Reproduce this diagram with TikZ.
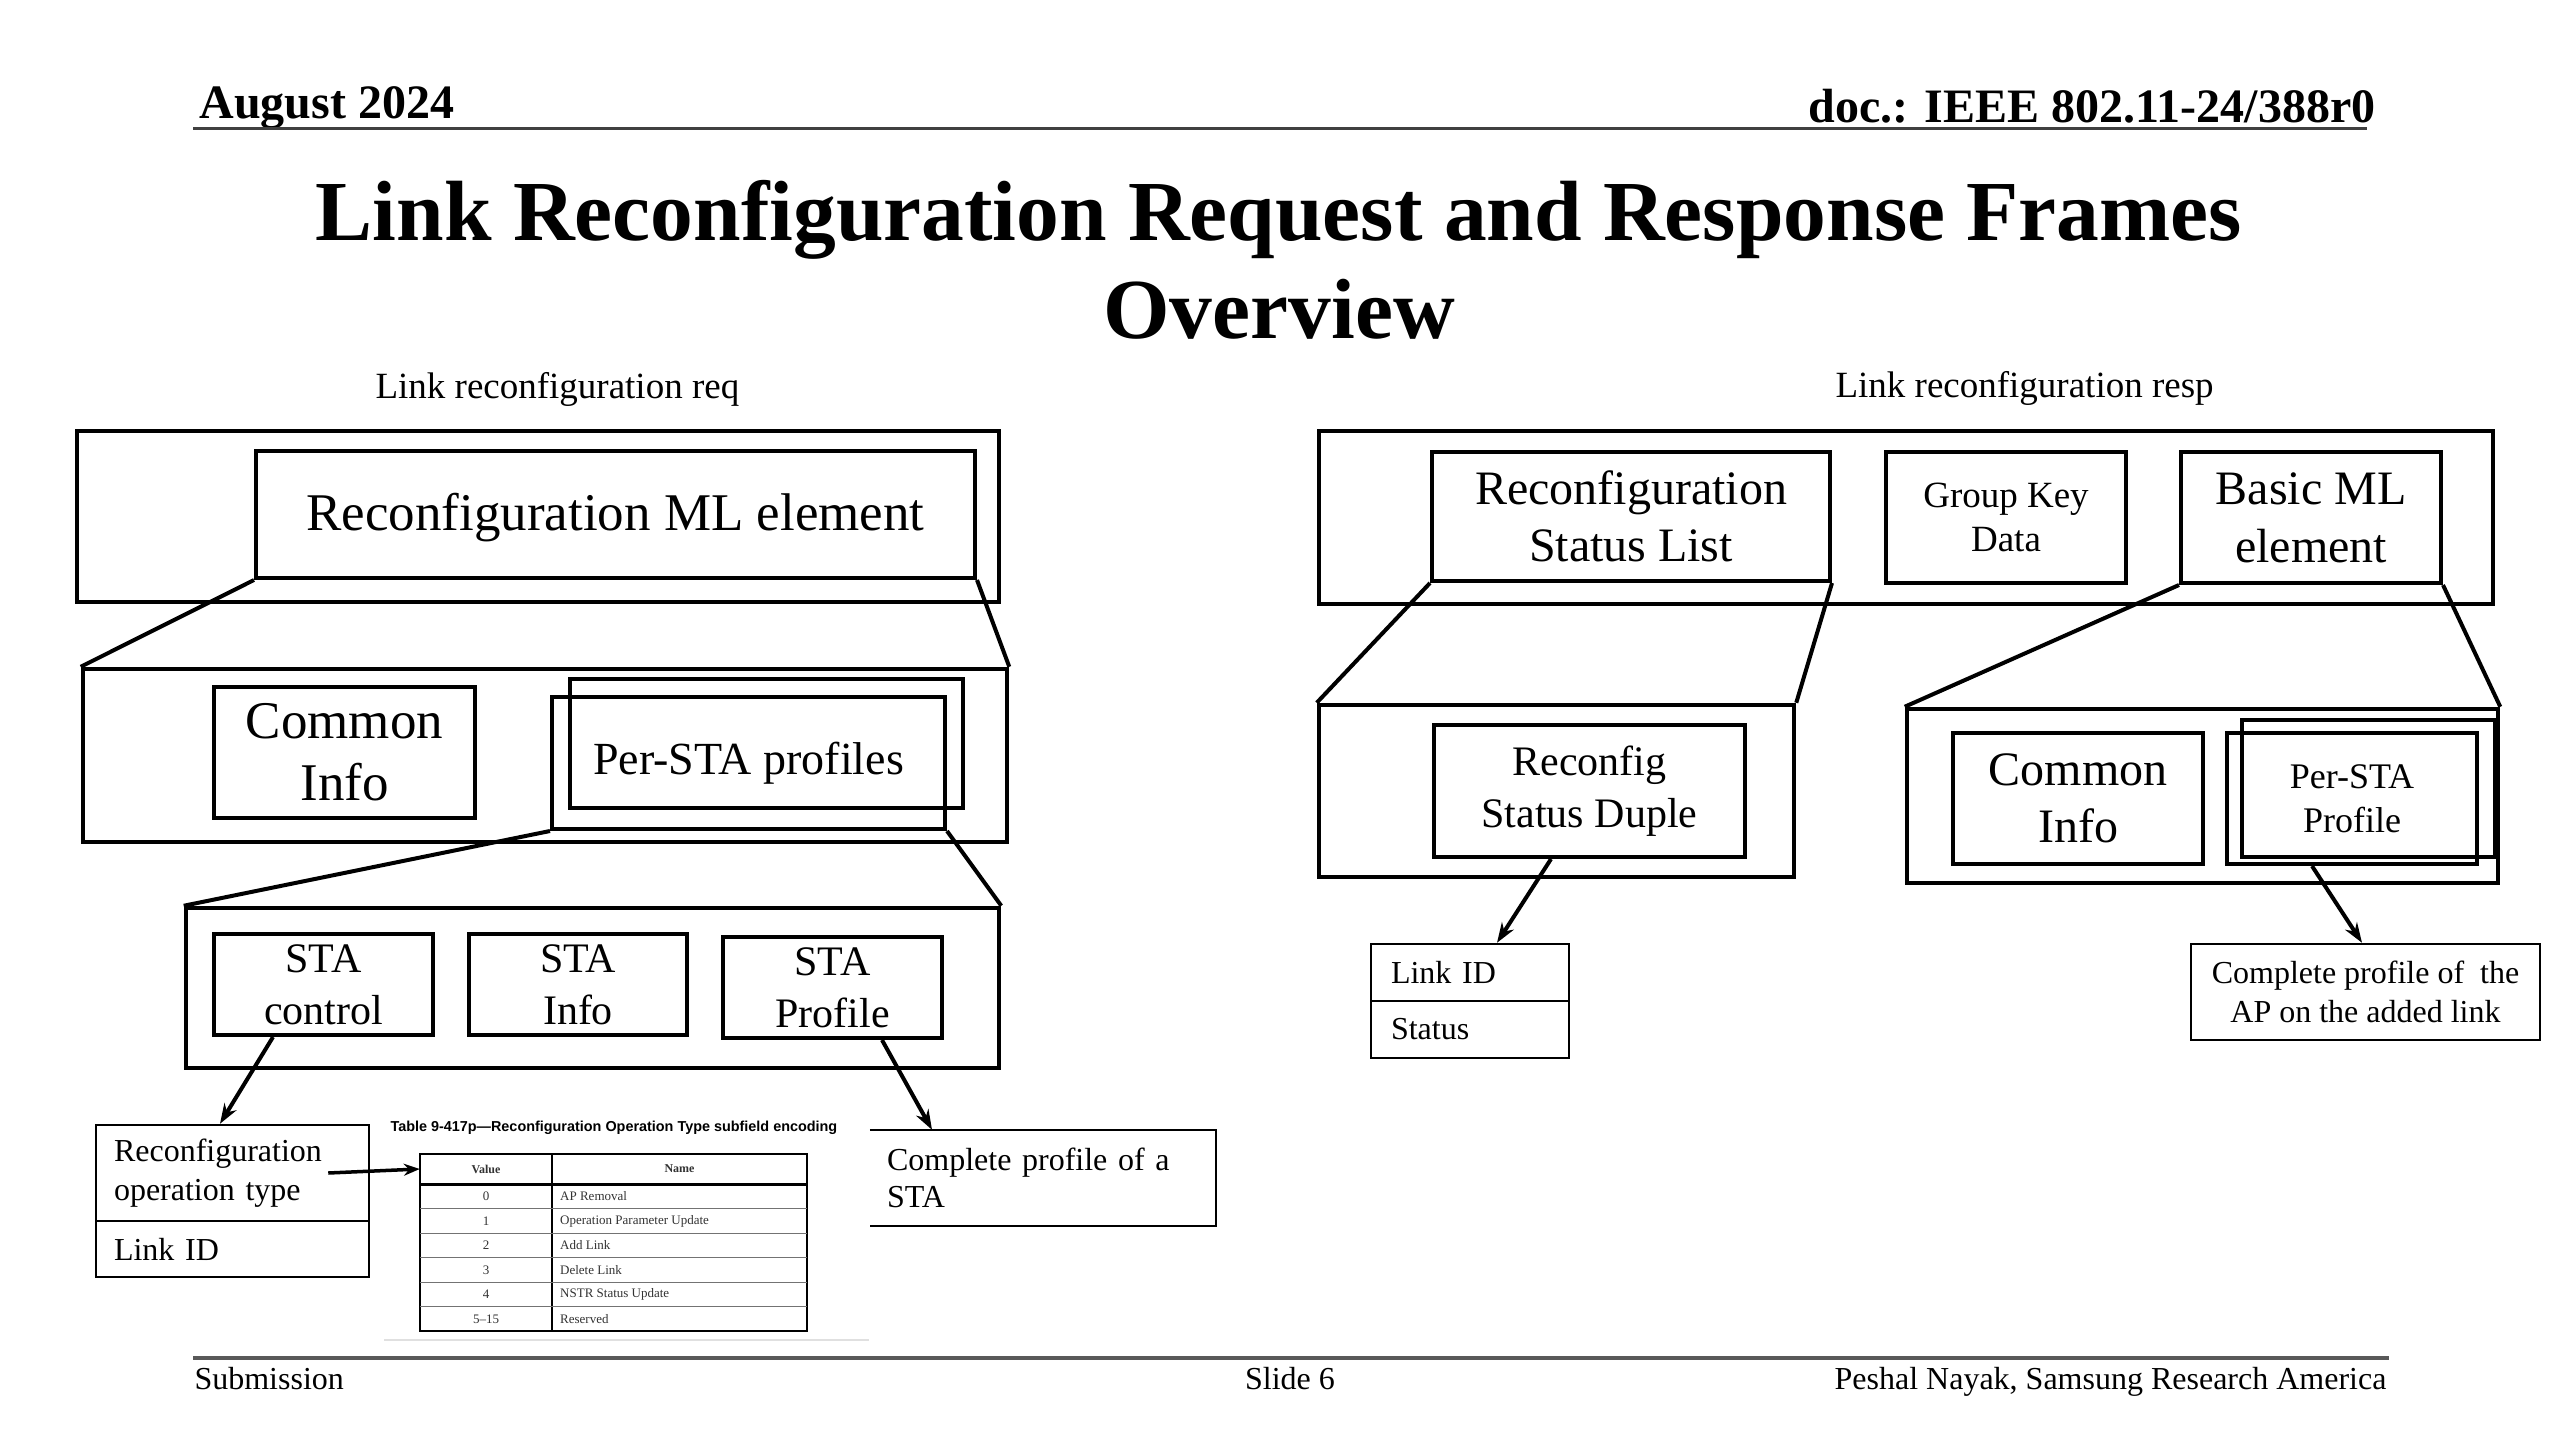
\documentclass[tikz,border=0pt]{standalone}
\usepackage{fontspec}
\setmainfont{Liberation Serif}
\newfontfamily\tsans{Liberation Sans}
\usetikzlibrary{arrows.meta,calc}
\newcommand\fsz[2]{\fontsize{#1}{#2}\selectfont}
\tikzset{
  frame/.style={draw, line width=4.5pt, inner sep=0pt},
  fbox/.style={draw, line width=4pt, inner sep=0pt, align=center},
  leaf/.style={draw, line width=2.5pt, inner ysep=0pt, align=left},
  link/.style={line width=4pt},
  arr/.style={line width=4pt, -{Stealth[length=20pt,width=14pt]}},
  cell/.style={inner sep=0pt, font=\fsz{13}{15}, text=black!80},
}
\begin{document}
\begin{tikzpicture}[x=1pt,y=-1pt]
\path[use as bounding box, fill=white] (0,0) rectangle (2560,1440);

% header
\node[anchor=base west, font=\bfseries\fsz{48}{56}] (aug) at (196,118) {August 2024};
\node[anchor=base east, font=\bfseries\fsz{48}{56}] (doc) at (2379,122) {doc.: IEEE 802.11-24/388r0};
\draw[line width=3pt, black!75] (193,128) -- (2367,128);
\node[anchor=base, font=\bfseries\fsz{85.5}{98}] (title1) at (1279,240) {Link Reconfiguration Request and Response Frames};
\node[anchor=base, font=\bfseries\fsz{85.5}{98}] (title2) at (1279,338) {Overview};
\node[anchor=base west, font=\fsz{37}{44}] (subl) at (372,398) {Link reconfiguration req};
\node[anchor=base west, font=\fsz{37}{44}] (subr) at (1832,397) {Link reconfiguration resp};

% footer
\draw[line width=4pt, black!65] (193,1358) -- (2389,1358);
\node[anchor=base west, font=\fsz{32}{38}] (fsub) at (191,1389) {Submission};
\node[anchor=base, font=\fsz{32}{38}] (fslide) at (1290,1389) {Slide 6};
\node[anchor=base east, font=\fsz{32}{38}] (fauth) at (2390,1389) {Peshal Nayak, Samsung Research America};

% ---------------- left diagram ----------------
\node[frame, minimum width=922, minimum height=171] (L1) at (538,516.5) {};
\node[fbox, minimum width=719, minimum height=127, font=\fsz{53}{62}, text depth=6pt] (rml) at (615.5,514.5) {Reconfiguration ML element};
\node[frame, minimum width=924, minimum height=173] (L2) at (545,755.5) {};
\draw[link] (rml.south west) -- (L2.north west);
\draw[link] (rml.south east) -- (L2.north east);
\node[fbox, minimum width=261, minimum height=131, font=\fsz{53}{62}] (cil) at (344.5,752.5) {Common\\Info};
\node[fbox, minimum width=393, minimum height=129] (pal) at (766.5,743.5) {};
\node[fbox, minimum width=393, minimum height=132, font=\fsz{46}{52}] (pbl) at (748.5,763) {Per-STA profiles};
\node[frame, minimum width=813, minimum height=160] (L3) at (592.5,988) {};
\draw[link] (pbl.south west) -- (L3.north west);
\draw[link] (pbl.south east) -- (L3.north east);
\node[fbox, minimum width=219, minimum height=101, font=\fsz{42}{52}] (stactl) at (323.5,984.5) {STA\\control};
\node[fbox, minimum width=218, minimum height=101, font=\fsz{42}{52}] (stainf) at (578,984.5) {STA\\Info};
\node[fbox, minimum width=219, minimum height=101, font=\fsz{42}{52}] (staprf) at (832.5,987.5) {STA\\Profile};

\node[leaf, minimum width=273, minimum height=96, inner xsep=18pt, text width=237pt, font=\fsz{32}{39}] (rot) at (232.5,1173) {Reconfiguration\\operation type};
\node[leaf, minimum width=273, minimum height=56, inner xsep=18pt, text width=237pt, font=\fsz{32}{39}] (lid) at (232.5,1249) {Link ID};
\draw[arr] ([xshift=-50.5pt]stactl.south) -- ([xshift=-12.5pt]rot.north);

% table
\node[anchor=base west, font=\tsans\bfseries\fsz{14.4}{17}] (tcap) at (387,1131) {Table 9-417p—Reconfiguration Operation Type subfield encoding};
\node[draw, line width=2.5pt, minimum width=387, minimum height=177, inner sep=0pt] (tbl) at (613.5,1242.5) {};
\node[cell, minimum width=132, minimum height=30, font=\bfseries\fsz{12}{14}] (th1) at (486,1169) {Value};
\node[cell, minimum width=255, minimum height=30, font=\bfseries\fsz{12}{14}] (th2) at (679.5,1169) {Name};
\draw[line width=1.5pt] (552,1154) -- (552,1331);
\draw[line width=3pt] (420,1184) -- (807,1184);
\foreach \yy in {1208.5,1233,1257.5,1282,1306.5} \draw[line width=1pt, black!55] (420,\yy) -- (807,\yy);
\foreach \v/\n [count=\i from 0] in {0/AP Removal, 1/Operation Parameter Update, 2/Add Link, 3/Delete Link, 4/NSTR Status Update, 5--15/Reserved}{
  \node[cell] (tv\i) at (486,{1196.5+24.5*\i}) {\v};
  \node[cell, anchor=west] (tn\i) at (560,{1196.5+24.5*\i}) {\n};
}
\draw[line width=1.5pt, black!12] (384,1340) -- (869,1340);
\draw[line width=3.5pt, -{Stealth[length=16pt,width=12pt]}] ([xshift=-42pt]rot.east) -- (th1.west);

\node[inner xsep=17pt, inner ysep=0pt, minimum width=346, minimum height=96, text width=312pt, align=left, font=\fsz{32}{37}] (cpa) at (1043,1178) {Complete profile of a\\STA};
\draw[line width=2.5pt] (cpa.north west) -- (cpa.north east) -- (cpa.south east) -- (cpa.south west);
\draw[arr] ([xshift=49.5pt]staprf.south) -- ([xshift=-111pt]cpa.north);

% ---------------- right diagram ----------------
\node[frame, minimum width=1174, minimum height=173] (R1) at (1906,517.5) {};
\node[fbox, minimum width=398, minimum height=129, font=\fsz{48}{57}] (rsl) at (1631,516.5) {Reconfiguration\\Status List};
\node[fbox, minimum width=240, minimum height=131, font=\fsz{37}{44}] (gkd) at (2006,517.5) {Group Key\\Data};
\node[fbox, minimum width=260, minimum height=131, font=\fsz{48}{58}] (bml) at (2311,517.5) {Basic ML\\element};

\node[frame, minimum width=475, minimum height=172] (R2) at (1556.5,791) {};
\draw[link] (rsl.south west) -- (R2.north west);
\draw[link] (rsl.south east) -- (R2.north east);
\node[fbox, minimum width=311, minimum height=132, font=\fsz{42}{52}] (rsd) at (1589.5,791) {Reconfig\\Status Duple};
\node[leaf, minimum width=198, minimum height=57, inner xsep=20pt, text width=158pt, font=\fsz{32}{38}] (lsl) at (1470,972.5) {Link ID};
\node[leaf, minimum width=198, minimum height=57, inner xsep=20pt, text width=158pt, font=\fsz{32}{38}] (lss) at (1470,1029.5) {Status};
\draw[arr] ([xshift=-38.5pt]rsd.south) -- ([xshift=27pt]lsl.north);

\node[frame, minimum width=591, minimum height=174] (R3) at (2202.5,796) {};
\draw[link] (bml.south west) -- (R3.north west);
\draw[link] (bml.south east) -- (R3.north east);
\node[fbox, minimum width=250, minimum height=131, font=\fsz{48}{57}] (cir) at (2078,798.5) {Common\\Info};
\node[fbox, minimum width=253, minimum height=137] (par) at (2368.5,788.5) {};
\node[fbox, minimum width=250, minimum height=131, font=\fsz{36}{44}] (pbr) at (2352,798.5) {Per-STA\\Profile};
\node[leaf, align=center, minimum width=349, minimum height=96, font=\fsz{32}{39}] (cpar) at (2365.5,992) {Complete profile of~ the\\AP on the added link};
\draw[arr] ([xshift=-40pt]pbr.south) -- ([xshift=-3.5pt]cpar.north);
\end{tikzpicture}
\end{document}
